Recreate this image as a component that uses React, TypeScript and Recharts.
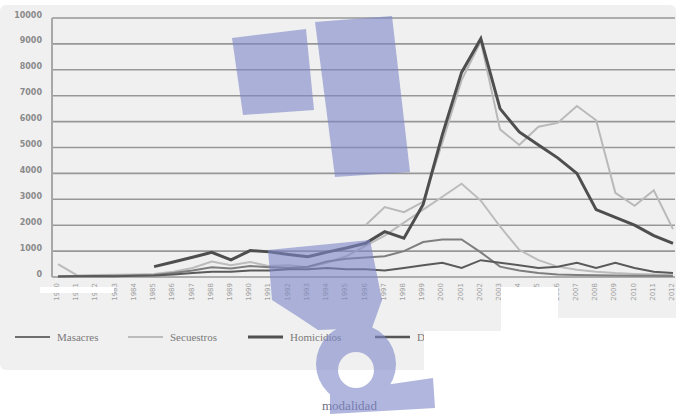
import React from "react"
import { CartesianGrid, Line, LineChart, XAxis, YAxis } from "recharts"

const years = [
  "1980", "1981", "1982", "1983", "1984", "1985", "1986", "1987", "1988", "1989",
  "1990", "1991", "1992", "1993", "1994", "1995", "1996", "1997", "1998", "1999",
  "2000", "2001", "2002", "2003", "2004", "2005", "2006", "2007", "2008", "2009",
  "2010", "2011", "2012",
]

const masacres = [
  30, 40, 40, 50, 60, 80, 150, 250, 380, 330,
  420, 380, 350, 400, 600, 700, 750, 800, 1000, 1350,
  1450, 1450, 950, 400, 250, 150, 100, 80, 70, 60,
  50, 50, 40,
]

const secuestros = [
  500, 60, 80, 90, 100, 120, 200, 350, 600, 450,
  580, 420, 450, 380, 550, 800, 1200, 1600, 2100, 2600,
  3100, 3600, 2950, 1950, 1050, 650, 400, 280, 200, 150,
  120, 100, 80,
]

const homicidios = [
  null, null, null, null, null, 400, 580, 760, 950, 660,
  1020, 970, 870, 780, 960, 1120, 1300, 1750, 1500, 2800,
  5500, 7900, 9200, 6500, 5600, 5100, 4600, 4000, 2600, 2300,
  2000, 1600, 1300,
]

const desapariciones = [
  20, 30, 40, 30, 50, 60, 100, 150, 200, 200,
  250, 250, 300, 300, 350, 300, 300, 250, 350, 450,
  550, 350, 650, 550, 450, 350, 400, 550, 350, 550,
  350, 200, 150,
]

// quinta serie, su nombre queda tapado en la leyenda
const otros = [
  null, null, null, null, null, null, null, null, null, null,
  null, null, null, null, null, null, 2000, 2700, 2500, 2900,
  5200, 7600, 9100, 5700, 5100, 5800, 5950, 6600, 6050, 3250,
  2750, 3350, 1850,
]

const yTicks = [0, 1000, 2000, 3000, 4000, 5000, 6000, 7000, 8000, 9000, 10000]

const legendItems = [
  { name: "Masacres", color: "#6e6e6e", width: 2, x: 15 },
  { name: "Secuestros", color: "#ababab", width: 1.5, x: 128 },
  { name: "Homicidios", color: "#505050", width: 3, x: 248 },
  { name: "Desapariciones", color: "#555555", width: 2.5, x: 375 },
]

const data = years.map((year, i) => ({
  year,
  masacres: masacres[i],
  secuestros: secuestros[i],
  homicidios: homicidios[i],
  desapariciones: desapariciones[i],
  otros: otros[i],
}))

function YearTick({ x, y, payload }: any) {
  const tx = x + 1
  return (
    <text
      x={tx}
      y={y}
      transform={`rotate(-90 ${tx} ${y})`}
      textAnchor="end"
      fontSize={7}
      fill="#a0a0a0"
      fontFamily="DejaVu Sans"
    >
      {payload.value}
    </text>
  )
}

function ValueTick({ x, y, payload }: any) {
  return (
    <text
      x={x}
      y={y - 3}
      textAnchor="end"
      dominantBaseline="central"
      fontSize={8}
      fontWeight={700}
      fill="#8a8a8a"
      fontFamily="DejaVu Sans"
    >
      {payload.value}
    </text>
  )
}

export default function App() {
  return (
    <div
      style={{
        position: "fixed",
        left: 0,
        top: 0,
        width: 676,
        height: 415,
        background: "#ffffff",
        overflow: "hidden",
      }}
    >
      <div
        style={{
          position: "absolute",
          left: 0,
          top: 5,
          width: 676,
          height: 365,
          background: "#f0f0f0",
          borderRadius: 6,
        }}
      />
      <div style={{ position: "absolute", left: 0, top: 0 }}>
        <LineChart
          width={676}
          height={305}
          data={data}
          margin={{ top: 18, right: 1, left: 0, bottom: 0 }}
        >
          <CartesianGrid vertical={false} stroke="#979797" strokeWidth={1.6} />
          <XAxis
            dataKey="year"
            interval={0}
            height={28}
            tickSize={0}
            tickMargin={6}
            axisLine={false}
            padding={{ left: 6, right: 2 }}
            tick={<YearTick />}
          />
          <YAxis
            domain={[0, 10000]}
            ticks={yTicks}
            interval={0}
            width={52}
            tickSize={0}
            tickMargin={10}
            axisLine={{ stroke: "#a8a8a8", strokeWidth: 2 }}
            tick={<ValueTick />}
          />
          <Line dataKey="otros" stroke="#b9b9b9" strokeWidth={2} dot={false} isAnimationActive={false} />
          <Line dataKey="secuestros" stroke="#bcbcbc" strokeWidth={2} dot={false} isAnimationActive={false} />
          <Line dataKey="masacres" stroke="#7e7e7e" strokeWidth={2} dot={false} isAnimationActive={false} />
          <Line dataKey="desapariciones" stroke="#5a5a5a" strokeWidth={2} dot={false} isAnimationActive={false} />
          <Line dataKey="homicidios" stroke="#4e4e4e" strokeWidth={3} dot={false} isAnimationActive={false} />
        </LineChart>
      </div>
      <svg
        width={676}
        height={415}
        style={{ position: "absolute", left: 0, top: 0, pointerEvents: "none" }}
      >
        {legendItems.map((it) => (
          <g key={it.name}>
            <line x1={it.x} x2={it.x + 35} y1={337} y2={337} stroke={it.color} strokeWidth={it.width} />
            <text
              x={it.x + 42}
              y={341}
              fontSize={11}
              fill="#7a7a7a"
              fontFamily="Liberation Serif"
            >
              {it.name}
            </text>
          </g>
        ))}
        <rect x={40} y={287} width={74} height={6} fill="#ffffff" />
        <rect x={501} y={287} width={57} height={40} fill="#ffffff" />
        <rect x={501} y={318} width={175} height={97} fill="#ffffff" />
        <rect x={424} y={331} width={80} height={84} fill="#ffffff" />
        <text x={322} y={410} fontSize={13} fill="#6f7088" fontFamily="Liberation Serif">
          modalidad
        </text>
        <g fill="#7c86c8" opacity={0.6}>
          <polygon points="232,38 306,29 314,110 243,115" />
          <polygon points="315,22 392,16 410,172 335,177" />
          <polygon points="268,250 370,240 382,300 372,328 318,330 300,318 272,300" />
          <path
            fillRule="evenodd"
            d="M 316 364 A 40 40 0 1 0 396 364 A 40 40 0 1 0 316 364 Z M 338 370 A 18 18 0 1 0 374 370 A 18 18 0 1 0 338 370 Z"
          />
          <polygon points="330,393 433,378 435,408 330,414" />
        </g>
      </svg>
    </div>
  )
}
